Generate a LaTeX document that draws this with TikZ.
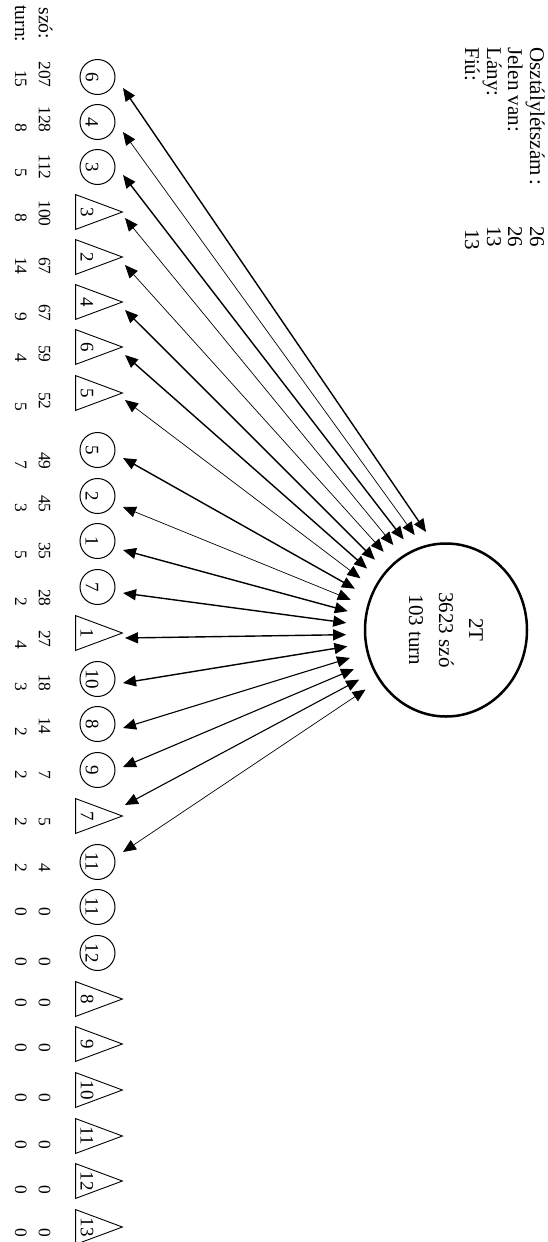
\documentclass[tikz,border=0pt]{standalone}
\usepackage{fontspec}
\setmainfont{Liberation Serif}
\usetikzlibrary{arrows.meta,calc,shapes.geometric}
\tikzset{
  px/.style={x=0.5pt,y=-0.5pt},
  bigc/.style={ellipse,draw,line width=1.25pt,rotate=-90,minimum width=86.5pt,minimum height=81pt,inner sep=0pt,align=center,font=\fontsize{10.5}{15}\selectfont},
  stud/.style={circle,draw,line width=0.5pt,minimum size=17.5pt,inner sep=0pt},
  tribox/.style={rectangle,minimum width=23pt,minimum height=17pt,inner sep=0pt},
  trishape/.style={draw,line width=0.45pt},
  symlab/.style={rotate=-90,inner sep=0pt,font=\fontsize{9.5}{11}\selectfont},
  num/.style={rotate=-90,inner sep=0pt,anchor=base east,font=\fontsize{8.7}{10}\selectfont},
  rowlab/.style={rotate=-90,inner sep=0pt,anchor=base west,font=\fontsize{9.8}{11}\selectfont},
  head/.style={rotate=-90,inner sep=0pt,anchor=base west,font=\fontsize{10.5}{12}\selectfont},
  conn/.style={{Triangle[length=6.5pt,width=5.5pt]}-{Triangle[length=6.5pt,width=5.5pt]}},
  wthick/.style={conn,line width=0.7pt},
  wmed/.style={conn,line width=0.55pt},
  wthin/.style={conn,line width=0.35pt},
}
\begin{document}
\begin{tikzpicture}[px]
\useasboundingbox (0,0) rectangle (547,1242);
% header
\node[head] (h1) at (530,47) {Osztálylétszám\,:};
\node[head] (h2) at (508,47) {Jelen van:};
\node[head] (h3) at (487,47) {Lány:};
\node[head] (h4) at (465,47) {Fiú:};
\node[head] (v1) at (530,226) {26};
\node[head] (v2) at (508,226) {26};
\node[head] (v3) at (487,226) {13};
\node[head] (v4) at (465,229) {13};
% row labels
\node[rowlab] (rs) at (39,7) {szó:};
\node[rowlab] (rt) at (15,5) {turn:};
% big circle
\node[bigc] (big) at (446,630) {2T\\3623 szó\\103 turn};
% students
\foreach \i/\t/\l/\cy/\sz/\tu/\se/\te in {
 1/0/6/77/207/15/88/88,
 2/0/4/122/128/8/133/133,
 3/0/3/167/112/5/180/178,
 4/1/3/212/100/8/227/223,
 5/1/2/257/67/14/275/275,
 6/1/4/302/67/9/322/322,
 7/1/6/347/59/4/363/363,
 8/1/5/393/52/5/410/412,
 9/0/5/450/49/7/470/470,
 10/0/2/496/45/3/513/513,
 11/0/1/541/35/5/560/560,
 12/0/7/587/28/2/607/607,
 13/1/1/633/27/4/648/650,
 14/0/10/679/18/3/692/692,
 15/0/8/724/14/2/735/737,
 16/0/9/770/7/2/780/780,
 17/1/7/816/5/2/827/827,
 18/0/11/862/4/2/873/873,
 19/0/11/907/0/0/917/917,
 20/0/12/953/0/0/967/967,
 21/1/8/999/0/0/1008/1008,
 22/1/9/1044/0/0/1053/1053,
 23/1/10/1090/0/0/1103/1103,
 24/1/11/1136/0/0/1150/1150,
 25/1/12/1181/0/0/1195/1195,
 26/1/13/1227/0/0/1238/1238}{
  \ifnum\t=0
    \node[stud] (s\i) at (97.5,\cy) {};
    \node[symlab] (l\i) at (92,\cy) {\l};
  \else
    \node[tribox] (s\i) at (99,\cy) {};
    \draw[trishape] (s\i.north west) -- (s\i.east) -- (s\i.south west) -- cycle;
    \node[symlab] (l\i) at (87,\cy) {\l};
  \fi
  \node[num] (z\i) at (39,\se) {\sz};
  \node[num] (u\i) at (15,\te) {\tu};
}
% connectors
\foreach \i/\dx/\dy/\w in {
 1/25.5/11/wthick, 2/25.5/10/wthin, 3/25.5/8/wthick, 4/26/6/wthin,
 5/26/8/wthin, 6/26/8/wthick, 7/26/8/wthick, 8/26/7/wthin,
 9/25.5/8/wthick, 10/25.5/11/wthin, 11/25.5/9/wthick, 12/25.5/6/wthick,
 13/26/5/wthick, 14/25.5/4/wthick, 15/25.5/4/wmed, 16/25.5/-3/wmed,
 17/26/-11/wmed, 18/25.5/-10/wthin}{
  \pgfmathsetmacro\ang{258.5-(\i-1)*6.765}
  \draw[\w] ([shift={(\ang:100)}]big.center) -- ([shift={(\dx,\dy)}]s\i.center);
}
\end{tikzpicture}
\end{document}
